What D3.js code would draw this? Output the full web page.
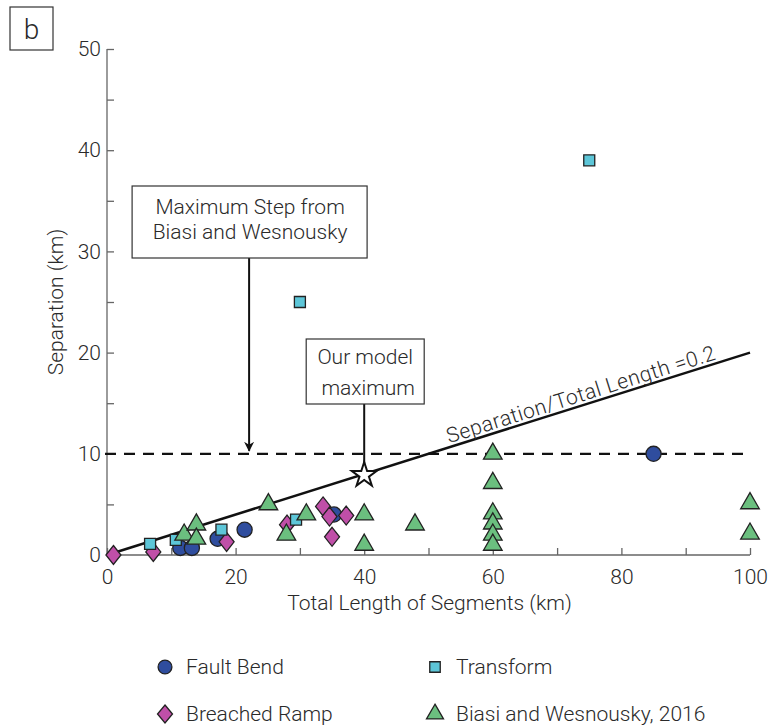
<!DOCTYPE html>
<html>
<head>
<meta charset="utf-8">
<script src="https://cdn.jsdelivr.net/npm/d3@7"></script>
<style>
  body { margin: 0; background: #fff; }
  text { font-family: Roboto, "Liberation Sans", sans-serif; font-weight: 300; fill: #2a2a2a; }
</style>
</head>
<body>
<div id="chart"></div>
<script>
// series: [total length (km), separation (km)]
const faultBend = [[11.4, 0.7], [13.2, 0.7], [17.2, 1.6], [21.4, 2.5], [35.3, 4.0], [85, 10]];
const transform = [[6.7, 1.1], [10.7, 1.5], [17.8, 2.5], [29.4, 3.5], [30, 25], [75, 39]];
const breachedRamp = [[1, 0], [7.2, 0.3], [18.6, 1.3], [28, 3], [33.6, 4.8], [34.6, 3.8], [37.2, 3.9], [35, 1.8]];
const biasi = [[12, 2], [13.9, 3], [13.9, 1.6], [25.1, 5], [27.9, 2], [31, 4], [40, 4], [40, 1], [47.9, 3],
  [60, 10], [60, 7.1], [60, 4.1], [60, 3.1], [60, 2], [60, 1], [100, 5.1], [100, 2.1]];

const xTicks = [0, 20, 40, 60, 80, 100];
const xMinorTicks = [10, 30, 50, 70, 90];
const yTicks = [0, 10, 20, 30, 40, 50];
const yMinorTicks = [5, 15, 25, 35, 45];
const ratioLine = [[0, 0], [100, 20]];   // separation / total length = 0.2
const maxStep = 10;                      // Biasi and Wesnousky max step
const modelMax = [40, 8];

const width = 771, height = 726;
const margin = { top: 49, right: 21, bottom: 171, left: 107 };

const svg = d3.select("#chart").append("svg")
  .attr("width", width)
  .attr("height", height);

const x = d3.scaleLinear().domain([0, 100]).range([margin.left, width - margin.right]);
const y = d3.scaleLinear().domain([0, 50]).range([height - margin.bottom, margin.top]);

// axes (ticks pointing inward)
const axisColor = "#666";
const fs = 21;
const xAxis = svg.append("g")
  .attr("transform", `translate(0,${y(0)})`)
  .call(d3.axisBottom(x).tickValues(xTicks).tickSizeInner(-7).tickSizeOuter(0).tickPadding(14));
const yAxis = svg.append("g")
  .attr("transform", `translate(${x(0)},0)`)
  .call(d3.axisLeft(y).tickValues(yTicks).tickSizeInner(-7).tickSizeOuter(0).tickPadding(6));
const xMinor = svg.append("g")
  .attr("transform", `translate(0,${y(0)})`)
  .call(d3.axisBottom(x).tickValues(xMinorTicks).tickSizeInner(-7).tickSizeOuter(0).tickFormat(""));
const yMinor = svg.append("g")
  .attr("transform", `translate(${x(0)},0)`)
  .call(d3.axisLeft(y).tickValues(yMinorTicks).tickSizeInner(-7).tickSizeOuter(0).tickFormat(""));
[xAxis, yAxis, xMinor, yMinor].forEach(a => {
  a.select(".domain").attr("stroke", axisColor).attr("stroke-width", 1.3);
  a.selectAll(".tick line").attr("stroke", axisColor).attr("stroke-width", 1.3);
  a.selectAll(".tick text").attr("font-size", fs).attr("fill", "#333").attr("font-family", null);
});
[xMinor, yMinor].forEach(a => a.select(".domain").remove());
xAxis.select(".domain").attr("d", `M${x(0)},0H${x(100)}`);
yAxis.select(".domain").attr("d", `M0,${y(0)}V${y(50)}`);

svg.append("text")
  .attr("x", (x(0) + x(100)) / 2 + 1)
  .attr("y", 610)
  .attr("text-anchor", "middle")
  .attr("font-size", fs)
  .text("Total Length of Segments (km)");

svg.append("text")
  .attr("transform", `translate(63,${(y(0) + y(50)) / 2}) rotate(-90)`)
  .attr("text-anchor", "middle")
  .attr("font-size", fs)
  .text("Separation (km)");

// panel letter
svg.append("rect").attr("x", 10).attr("y", 7).attr("width", 43).attr("height", 43)
  .attr("fill", "none").attr("stroke", "#333").attr("stroke-width", 1.2);
svg.append("text").attr("x", 31.5).attr("y", 39).attr("text-anchor", "middle")
  .attr("font-size", 28).text("b");

// dashed max step line
svg.append("line")
  .attr("x1", x(0) - 2).attr("x2", x(100))
  .attr("y1", y(maxStep)).attr("y2", y(maxStep))
  .attr("stroke", "#111").attr("stroke-width", 2.2)
  .attr("stroke-dasharray", "11,8");

// ratio line
svg.append("path")
  .attr("d", d3.line().x(d => x(d[0])).y(d => y(d[1]))(ratioLine))
  .attr("stroke", "#111").attr("stroke-width", 2.5).attr("fill", "none");

const angle = Math.atan2(y(20) - y(0), x(100) - x(0)) * 180 / Math.PI;
svg.append("text")
  .attr("transform", `translate(${x(53.2)},${y(53.2 * 0.2) - 4}) rotate(${angle})`)
  .attr("font-size", fs)
  .attr("letter-spacing", 0.5)
  .text("Separation/Total Length =0.2");

// markers
const stroke = "#222";
function diamondPath(w, h) {
  return `M0,${-h}L${w},0L0,${h}L${-w},0Z`;
}
const shapes = {
  circle: d3.symbol(d3.symbolCircle, 180)(),
  square: d3.symbol(d3.symbolSquare, 121)(),
  diamond: diamondPath(7.5, 9.5),
  triangle: d3.symbol(d3.symbolTriangle, 150)()
};

function plot(data, shape, fill) {
  svg.append("g").selectAll("path")
    .data(data)
    .enter()
    .append("path")
    .attr("d", shapes[shape])
    .attr("transform", d => `translate(${x(d[0])},${y(d[1])})`)
    .attr("fill", fill)
    .attr("stroke", stroke)
    .attr("stroke-width", 1.3);
}

const colors = { fault: "#2f4d9e", transform: "#5dc6d8", ramp: "#c04fa8", biasi: "#6bbf7f" };
plot(faultBend, "circle", colors.fault);
plot(breachedRamp, "diamond", colors.ramp);
plot(transform, "square", colors.transform);
plot(biasi, "triangle", colors.biasi);

// annotation 1: max step
const ax1 = x(22.1);
svg.append("defs").append("marker")
  .attr("id", "arrow")
  .attr("viewBox", "0 0 10 10")
  .attr("refX", 9).attr("refY", 5)
  .attr("markerWidth", 5).attr("markerHeight", 5)
  .attr("orient", "auto")
  .append("path").attr("d", "M0,0L10,5L0,10L3,5Z").attr("fill", "#111");
svg.append("line")
  .attr("x1", ax1).attr("x2", ax1)
  .attr("y1", 258).attr("y2", y(maxStep) - 3)
  .attr("stroke", "#111").attr("stroke-width", 2)
  .attr("marker-end", "url(#arrow)");
svg.append("rect").attr("x", ax1 - 117).attr("y", 186).attr("width", 235).attr("height", 72)
  .attr("fill", "#fff").attr("stroke", "#333").attr("stroke-width", 1.2);
svg.append("text").attr("x", ax1 + 1).attr("y", 214).attr("text-anchor", "middle")
  .attr("font-size", fs).text("Maximum Step from");
svg.append("text").attr("x", ax1 + 1).attr("y", 239).attr("text-anchor", "middle")
  .attr("font-size", fs).text("Biasi and Wesnousky");

// annotation 2: model maximum
const ax2 = x(modelMax[0]);
svg.append("line")
  .attr("x1", ax2).attr("x2", ax2)
  .attr("y1", 404).attr("y2", y(modelMax[1]) - 10)
  .attr("stroke", "#111").attr("stroke-width", 2);
svg.append("rect").attr("x", ax2 - 58).attr("y", 339).attr("width", 118).attr("height", 65)
  .attr("fill", "#fff").attr("stroke", "#333").attr("stroke-width", 1.2);
svg.append("text").attr("x", ax2 + 1).attr("y", 364).attr("text-anchor", "middle")
  .attr("font-size", fs).text("Our model");
svg.append("text").attr("x", ax2 + 4).attr("y", 395).attr("text-anchor", "middle")
  .attr("font-size", fs).text("maximum");

svg.append("path")
  .attr("d", d3.symbol(d3.symbolStar, 190)())
  .attr("transform", `translate(${x(modelMax[0])},${y(modelMax[1]) + 1})`)
  .attr("fill", "#fff").attr("stroke", "#111").attr("stroke-width", 2);

// legend
const legendItems = [
  { label: "Fault Bend", shape: "circle", fill: colors.fault, lx: 165, ly: 667, size: 150 },
  { label: "Transform", shape: "square", fill: colors.transform, lx: 435, ly: 667, size: 110 },
  { label: "Breached Ramp", shape: "diamond", fill: colors.ramp, lx: 165, ly: 714 },
  { label: "Biasi and Wesnousky, 2016", shape: "triangle", fill: colors.biasi, lx: 435, ly: 714, size: 125 }
];
const legend = svg.append("g");
legendItems.forEach(d => {
  let p;
  if (d.shape === "diamond") p = diamondPath(7.5, 9);
  else p = d3.symbol(d.shape === "circle" ? d3.symbolCircle : d.shape === "square" ? d3.symbolSquare : d3.symbolTriangle, d.size)();
  legend.append("path")
    .attr("d", p)
    .attr("transform", `translate(${d.lx},${d.ly})`)
    .attr("fill", d.fill).attr("stroke", stroke).attr("stroke-width", 1.3);
  legend.append("text")
    .attr("x", d.lx + 21)
    .attr("y", d.ly + 7)
    .attr("font-size", fs)
    .text(d.label);
});
</script>
</body>
</html>
